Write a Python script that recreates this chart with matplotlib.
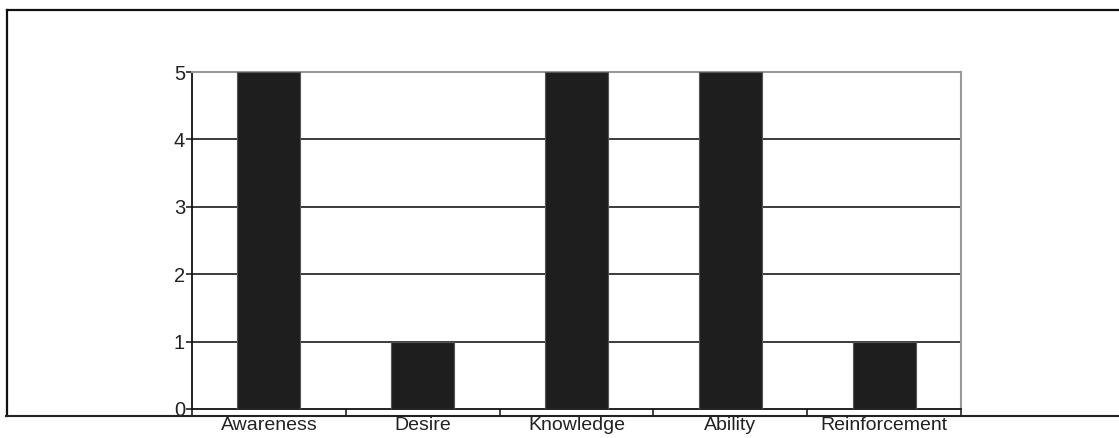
import matplotlib
matplotlib.use("Agg")
import matplotlib.pyplot as plt
from matplotlib.lines import Line2D
import numpy as np

categories = ["Awareness", "Desire", "Knowledge", "Ability", "Reinforcement"]
values = [5, 1, 5, 5, 1]
y_ticks = [0, 1, 2, 3, 4, 5]

plt.rcParams['font.family'] = ['Liberation Sans', 'DejaVu Sans']

fig = plt.figure(figsize=(11.19, 4.38), dpi=100)
ax = fig.add_axes([192/1119, 1-409/438, (961-192)/1119, (409-72)/438])

x = np.arange(len(categories))
ax.bar(x, values, width=0.41, color="#1e1e1e", edgecolor="#555555", linewidth=0.8, zorder=3)

ax.set_xlim(-0.5, len(categories) - 0.5)
ax.set_ylim(0, 5)
ax.set_yticks(y_ticks)
ax.set_yticklabels([str(v) for v in y_ticks], fontsize=14.5, color="#222222")
for v in y_ticks[1:-1]:
    ax.axhline(v, color="#1a1a1a", lw=1.2, zorder=1)

ax.set_xticks(x)
ax.set_xticklabels(categories, fontsize=14, color="#222222")
ax.tick_params(axis='x', which='major', length=0, pad=5.5)
ax.set_xticks(np.arange(-0.5, len(categories)), minor=True)
ax.tick_params(axis='x', which='minor', length=4, width=1.2, direction='out', color="#222222")
ax.tick_params(axis='y', length=4, width=1.2, direction='out', pad=1, color="#222222")

ax.spines['left'].set_color("#111111")
ax.spines['left'].set_linewidth(1.3)
ax.spines['bottom'].set_color("#111111")
ax.spines['bottom'].set_linewidth(1.3)
ax.spines['top'].set_color("#999999")
ax.spines['top'].set_linewidth(1.5)
ax.spines['right'].set_color("#999999")
ax.spines['right'].set_linewidth(1.5)

# outer frame lines
fig.add_artist(Line2D([7/1119, 1.0], [1-10/438, 1-10/438], transform=fig.transFigure, color="#111111", lw=1.6))
fig.add_artist(Line2D([7/1119, 7/1119], [1-10/438, 1-415.5/438], transform=fig.transFigure, color="#111111", lw=1.6))
fig.add_artist(Line2D([6/1119, 1.0], [1-415.5/438, 1-415.5/438], transform=fig.transFigure, color="#222222", lw=1.5))

fig.savefig("out.png", dpi=100)
